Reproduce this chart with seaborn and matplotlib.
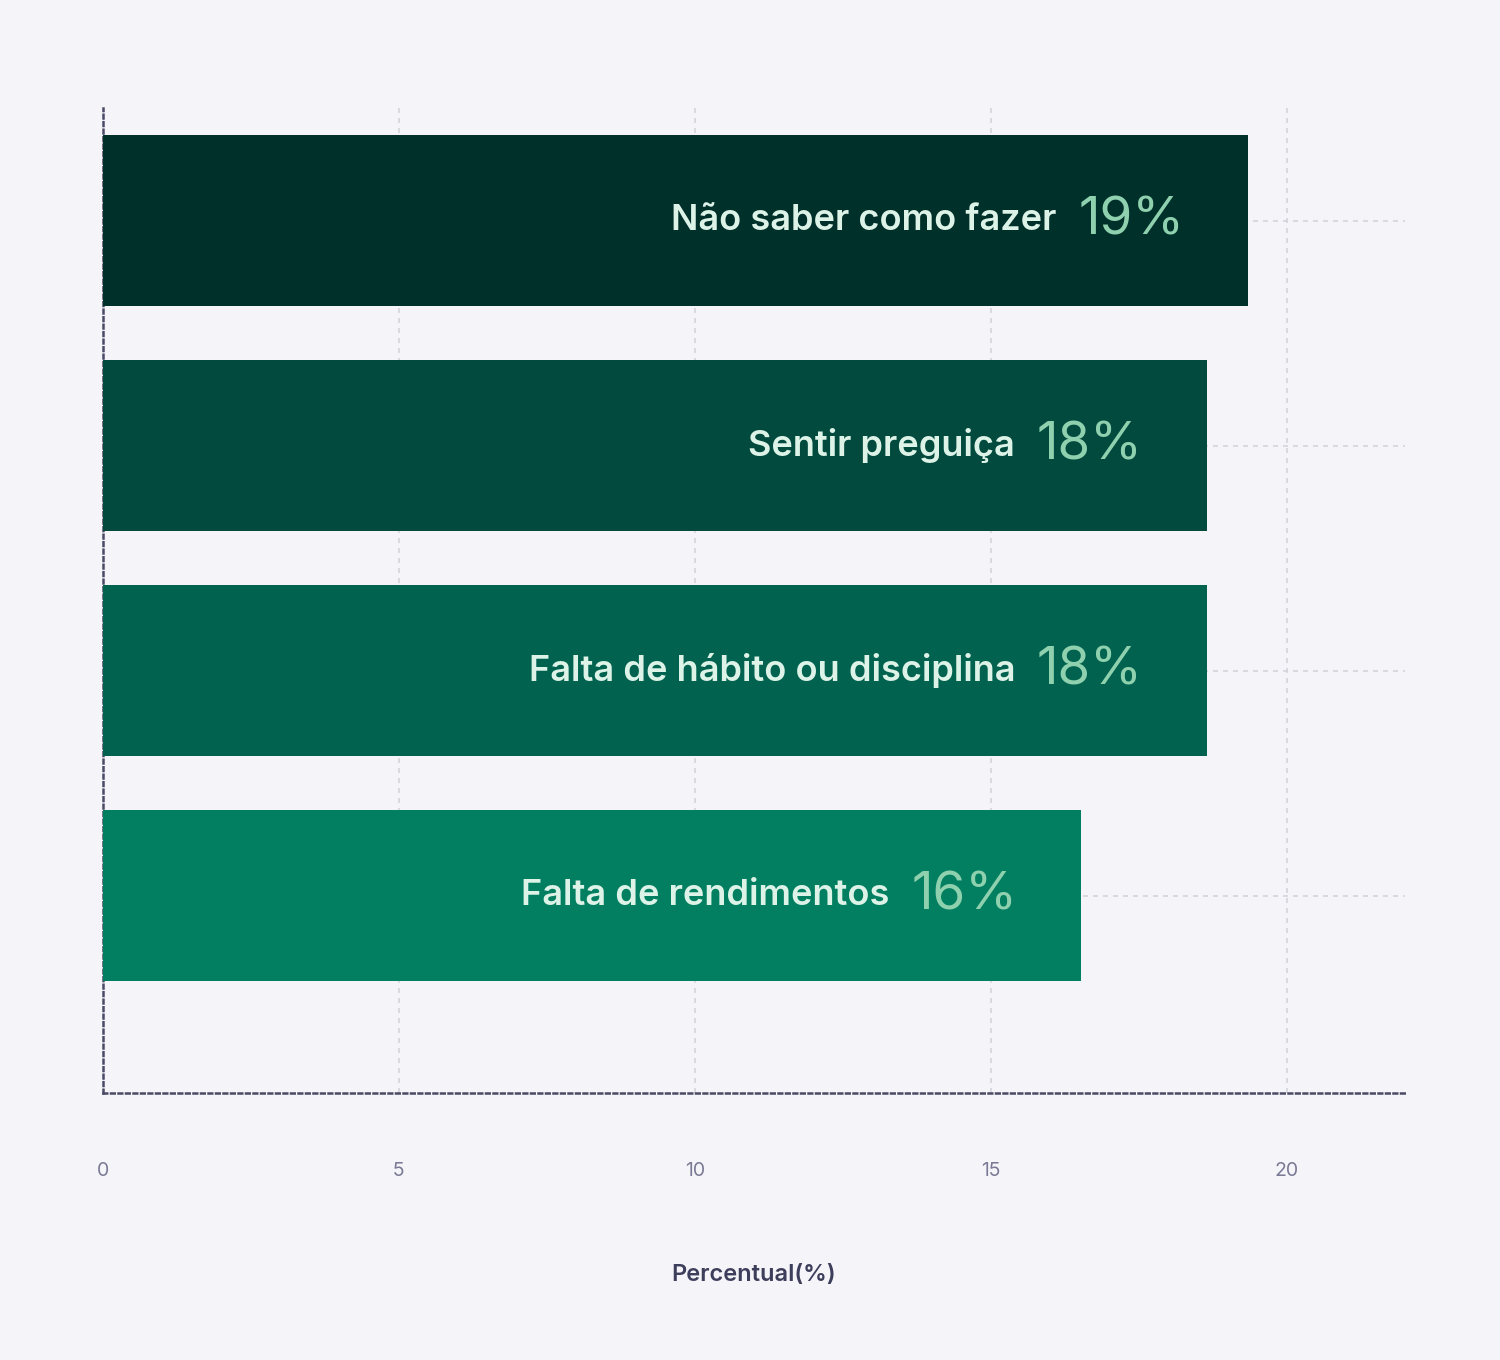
import matplotlib
matplotlib.use("Agg")
import matplotlib.pyplot as plt
import seaborn as sns
import pandas as pd

categories = ["Não saber como fazer", "Sentir preguiça",
              "Falta de hábito ou disciplina", "Falta de rendimentos"]
values = [19.35, 18.65, 18.65, 16.53]
labels = ["19%", "18%", "18%", "16%"]
colors = ["#00302A", "#024A3E", "#01634F", "#027F61"]

plt.rcParams["font.family"] = "Inter"
bg = "#F5F5F9"
fig = plt.figure(figsize=(15, 13.6), dpi=100, facecolor=bg)
ax = fig.add_axes([0.0687, 0.1963, 0.868, 0.7243], facecolor=bg)

df = pd.DataFrame({"cat": categories, "val": values})
sns.barplot(data=df, x="val", y="cat", hue="cat", palette=colors,
            width=0.76, saturation=1, legend=False, ax=ax, zorder=3)

ax.set_xlim(0, 22)
ax.set_ylim(3.876, -0.5)
ax.set_xticks([0, 5, 10, 15, 20])
ax.grid(True, color="#D4D4DC", linestyle=(0, (3, 3)), linewidth=1.2, zorder=0)
ax.tick_params(axis="x", length=0, pad=50, labelsize=14, labelcolor="#7A7A96")
ax.tick_params(axis="y", length=0, labelleft=False)
ax.set_ylabel("")
ax.set_xlabel("Percentual(%)", fontsize=17, color="#3D3D5C",
              fontweight="semibold", labelpad=60)
for s in ["top", "right"]:
    ax.spines[s].set_visible(False)
for s in ["left", "bottom"]:
    ax.spines[s].set_linestyle((0, (1.5, 1.5)))
    ax.spines[s].set_color("#4A4A66")
    ax.spines[s].set_linewidth(1.8)

fig.canvas.draw()
r = fig.canvas.get_renderer()
for i, (v, lab, cat) in enumerate(zip(values, labels, categories)):
    t = ax.annotate(lab, (v, i), xytext=(-46, 0), textcoords="offset points",
                    ha="right", va="center", fontsize=38, color="#8FD1AE",
                    zorder=5)
    fig.canvas.draw()
    bb = t.get_window_extent(r)
    x_left = ax.transData.inverted().transform((bb.x0 - 22, 0))[0]
    ax.text(x_left, i, cat, ha="right", va="center", fontsize=26,
            fontweight="semibold", color="#DDF3E8", zorder=5)

fig.savefig("out.png", dpi=100, facecolor=bg)
